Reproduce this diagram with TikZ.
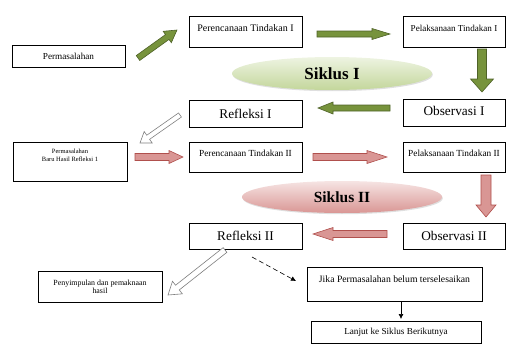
\documentclass[tikz,border=0pt]{standalone}
\usepackage{fontspec}
\setmainfont{Liberation Serif}
\usetikzlibrary{calc,arrows.meta,shadows,shapes.geometric}
\definecolor{gfill}{HTML}{77933C}
\definecolor{gline}{HTML}{4F6228}
\definecolor{pfill}{HTML}{D99694}
\definecolor{pline}{HTML}{B0504D}
\definecolor{hline}{HTML}{7F7F7F}
\definecolor{etopg}{HTML}{EEF4E2}
\definecolor{ebotg}{HTML}{C3D69B}
\definecolor{etopp}{HTML}{F6E4E3}
\definecolor{ebotp}{HTML}{D99694}
% block arrow: #1 style, #2 tail, #3 tip, #4 shaft half width, #5 head half width, #6 head length
\newcommand\blockarrow[6]{%
  \coordinate (ba-n) at ($(#3)!#6!(#2)$);
  \draw[#1] ($(#2)!#4!90:(#3)$) -- ($(ba-n)!#4!-90:(#2)$) -- ($(ba-n)!#5!-90:(#2)$)
    -- (#3) -- ($(ba-n)!#5!90:(#2)$) -- ($(ba-n)!#4!90:(#2)$) -- ($(#2)!#4!-90:(#3)$) -- cycle;
}
\newcommand\fs[1]{\fontsize{#1}{#1}\selectfont}
\begin{document}
\begin{tikzpicture}[x=1pt,y=-1pt,
  box/.style={draw, line width=0.7pt, inner sep=1pt, align=center},
  wbox/.style={box, minimum width=113pt},
  rbox/.style={box, minimum width=102pt},
  siklus/.style={ellipse, minimum width=200pt, minimum height=33pt, inner sep=0pt,
    drop shadow={opacity=0.25, shadow xshift=0.8pt, shadow yshift=-1.2pt}},
  garrow/.style={fill=gfill, draw=gline, line width=0.6pt, line join=miter},
  parrow/.style={fill=pfill, draw=pline, line width=0.6pt, line join=miter},
  harrow/.style={fill=white, draw=hline, line width=0.6pt, line join=miter},
  smallarr/.style={-{Latex[length=5pt,width=5pt]}, line width=0.6pt}
]
\useasboundingbox (0,0) rectangle (506,343);

% boxes
\node[box, minimum width=113pt, minimum height=22pt, font=\fs{9.2}] (perm) at (68.5,56) {Permasalahan};
\node[wbox, minimum height=31pt, font=\fs{10}, text depth=7pt] (pt1) at (245.5,31.5) {Perencanaan Tindakan I};
\node[rbox, minimum height=31pt, font=\fs{9.1}, text depth=7pt] (pl1) at (454,31.5) {Pelaksanaan Tindakan I};
\node[wbox, minimum height=27pt, font=\fs{13.3}] (r1) at (245.5,113.5) {Refleksi I};
\node[rbox, minimum height=27pt, font=\fs{13.3}, text depth=3pt] (o1) at (454,112.5) {Observasi I};

\node[box, minimum width=114pt, minimum height=39pt, font=\fontsize{6.5}{8}\selectfont, text depth=13pt] (pb) at (70,161.5) {Permasalahan\\Baru Hasil Refleksi 1};
\node[wbox, minimum height=30pt, font=\fs{9.3}, text depth=8pt] (pt2) at (245.5,157) {Perencanaan Tindakan II};
\node[rbox, minimum height=30pt, font=\fs{9.3}, text depth=8pt] (pl2) at (454,157) {Pelaksanaan Tindakan II};
\node[wbox, minimum height=26pt, font=\fs{13.3}] (r2) at (245.5,236) {Refleksi II};
\node[rbox, minimum height=26pt, font=\fs{13.3}] (o2) at (454,236) {Observasi II};

\node[box, minimum width=124pt, minimum height=31pt, font=\fontsize{7.9}{8}\selectfont] (pen) at (100,286.5) {Penyimpulan dan pemaknaan\\hasil};
\node[box, minimum width=175pt, minimum height=34pt, font=\fs{9.7}, text depth=10pt] (jika) at (394.5,284) {Jika Permasalahan belum terselesaikan};
\node[box, minimum width=170pt, minimum height=22pt, font=\fs{9.2}] (lanjut) at (396,332) {Lanjut ke Siklus Berikutnya};

% cycle ellipses
\node[siklus, top color=etopg, bottom color=ebotg, font=\bfseries\fs{17}] (s1) at (332,73.5) {Siklus I};
\node[siklus, minimum height=32pt, top color=etopp, bottom color=ebotp, font=\bfseries\fs{15.5}] (s2) at (342,197) {Siklus II};

% arrow end points
\coordinate (g1a) at (138,58);  \coordinate (g1b) at (177,30);
\coordinate (g2a) at (317,34);  \coordinate (g2b) at (390,34);
\coordinate (g3a) at (482,49);  \coordinate (g3b) at (482,92);
\coordinate (g4a) at (390,108); \coordinate (g4b) at (318,108);
\coordinate (h1a) at (180,115); \coordinate (h1b) at (140,143);
\coordinate (p1a) at (135,157); \coordinate (p1b) at (183,157);
\coordinate (p2a) at (313,157); \coordinate (p2b) at (387,157);
\coordinate (p3a) at (486,175); \coordinate (p3b) at (486,217);
\coordinate (p4a) at (387,234); \coordinate (p4b) at (313,234);
\coordinate (h2a) at (225,250); \coordinate (h2b) at (168,295);
\coordinate (da) at (252,257);  \coordinate (db) at (296,281);
\coordinate (ja) at (401,302);  \coordinate (jb) at (401,319);

\blockarrow{garrow}{g1a}{g1b}{3pt}{7pt}{12pt}
\blockarrow{garrow}{g2a}{g2b}{3pt}{5.5pt}{18pt}
\blockarrow{garrow}{g3a}{g3b}{4.5pt}{11.5pt}{13pt}
\blockarrow{garrow}{g4a}{g4b}{3pt}{6pt}{15pt}
\blockarrow{harrow}{h1a}{h1b}{2.5pt}{7pt}{10pt}
\blockarrow{parrow}{p1a}{p1b}{3.5pt}{6.5pt}{14pt}
\blockarrow{parrow}{p2a}{p2b}{3.5pt}{6.5pt}{20pt}
\blockarrow{parrow}{p3a}{p3b}{5pt}{10pt}{12pt}
\blockarrow{parrow}{p4a}{p4b}{3.5pt}{6.5pt}{20pt}
\blockarrow{harrow}{h2a}{h2b}{3pt}{8pt}{12pt}

\draw[smallarr, dash pattern=on 5pt off 3pt] (da) -- (db);
\draw[smallarr] (ja) -- (jb);
\end{tikzpicture}
\end{document}
